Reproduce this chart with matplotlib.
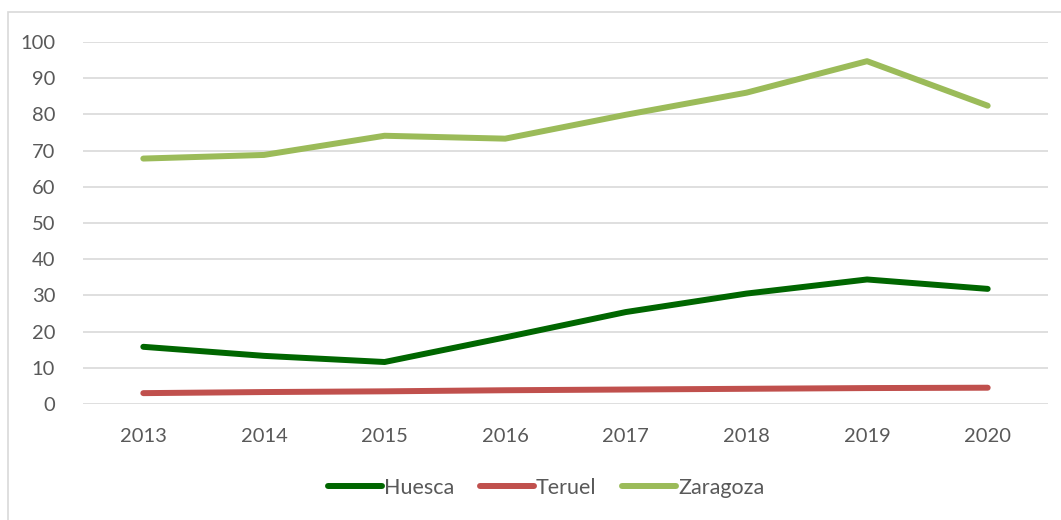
import matplotlib
matplotlib.use("Agg")
import matplotlib.pyplot as plt
from matplotlib.patches import Rectangle

years = ["2013", "2014", "2015", "2016", "2017", "2018", "2019", "2020"]
huesca = [15.8, 13.3, 11.6, 18.4, 25.4, 30.5, 34.4, 31.8]
teruel = [3.0, 3.3, 3.5, 3.8, 4.0, 4.2, 4.4, 4.5]
zaragoza = [67.8, 68.8, 74.1, 73.3, 79.9, 86.0, 94.7, 82.4]
yticks = list(range(0, 101, 10))

plt.rcParams['font.family'] = ['Lato', 'DejaVu Sans']
W, H = 1061, 520
fig = plt.figure(figsize=(W / 100, H / 100), dpi=100)
fig.patch.set_facecolor("white")

# outer chart border
fig.patches.append(Rectangle((8 / W, -0.05), 1.2, (H - 12) / H + 0.05,
                             transform=fig.transFigure, fill=False,
                             edgecolor="#d9d9d9", linewidth=1.2))

left, right = 83 / W, 1048 / W
top, bottom = 1 - 42 / H, 1 - 404 / H
ax = fig.add_axes([left, bottom, right - left, top - bottom])

x = list(range(len(years)))
ax.plot(x, huesca, color="#006600", linewidth=4.3, label="Huesca", solid_capstyle="round", zorder=3)
ax.plot(x, teruel, color="#C0504D", linewidth=4.3, label="Teruel", solid_capstyle="round", zorder=3)
ax.plot(x, zaragoza, color="#9BBB59", linewidth=4.3, label="Zaragoza", solid_capstyle="round", zorder=3)

ax.set_xlim(-0.5, len(years) - 0.5)
ax.set_ylim(0, 100)
ax.set_yticks(yticks)
ax.set_xticks(x)
ax.set_xticklabels(years)
ax.grid(axis="y", color="#d9d9d9", linewidth=1.2, zorder=0)
for s in ax.spines.values():
    s.set_visible(False)
ax.tick_params(axis="both", length=0, labelsize=14.5, labelcolor="#595959")
ax.tick_params(axis="y", pad=20)
ax.tick_params(axis="x", pad=17)

leg = fig.legend(loc="center", bbox_to_anchor=(546 / W, 1 - 488 / H), ncol=3,
                 frameon=False, fontsize=15.5, handlelength=2.5, handletextpad=0.1,
                 columnspacing=1.2)
for t in leg.get_texts():
    t.set_color("#595959")

fig.savefig("out.png", dpi=100, facecolor="white")
